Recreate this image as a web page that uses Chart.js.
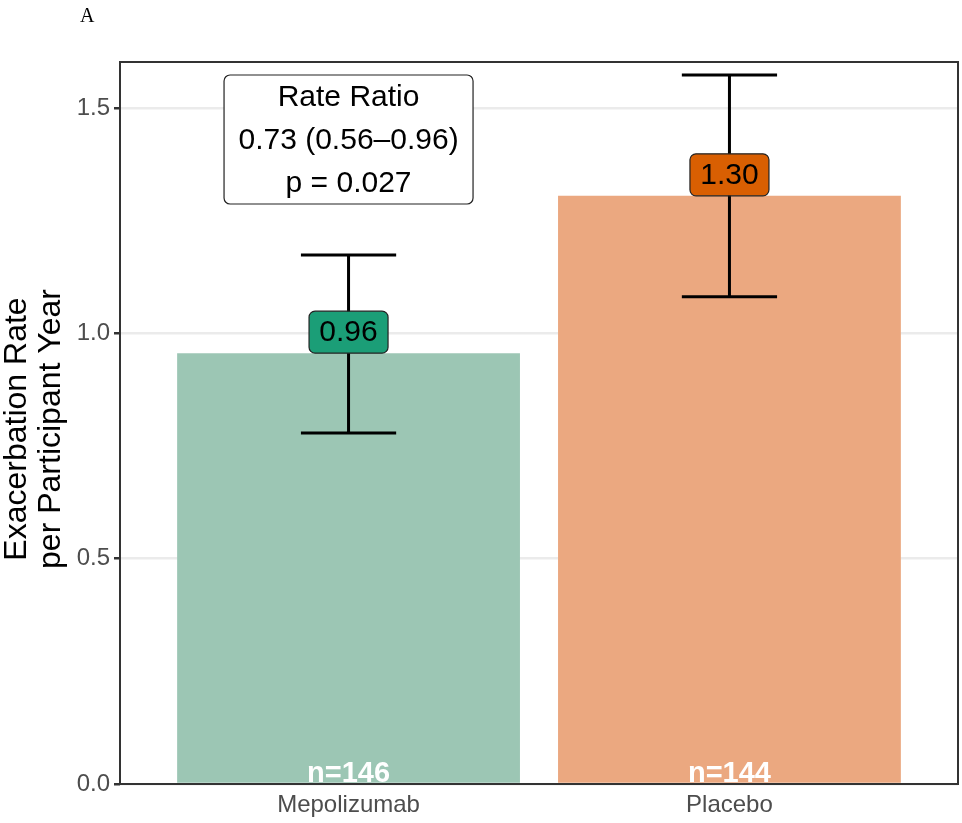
<!DOCTYPE html>
<html>
<head>
<meta charset="utf-8">
<script src="https://cdn.jsdelivr.net/npm/chart.js@4"></script>
<style>
  html, body { margin: 0; padding: 0; background: #fff; }
  #wrap { position: relative; width: 962px; height: 823px; }
</style>
</head>
<body>
<div id="wrap"><canvas id="chart" width="962" height="823"></canvas></div>
<script>
const groups = ["Mepolizumab", "Placebo"];
const groupPos = [1, 2];
const rates = [0.956, 1.305];
const rateLabels = ["0.96", "1.30"];
const ciLow = [0.779, 1.081];
const ciHigh = [1.174, 1.573];
const counts = ["n=146", "n=144"];
const barColors = ["#9cc6b4", "#eba880"];
const labelColors = ["#1b9e77", "#d95f02"];
const yTicks = [0, 0.5, 1.0, 1.5];
const ratioText = ["Rate Ratio", "0.73 (0.56\u20130.96)", "p = 0.027"];

const FONT = "'Liberation Sans', Arial, Helvetica, sans-serif";

const extras = {
  id: "extras",
  afterDatasetsDraw(chart) {
    const ctx = chart.ctx;
    const x = chart.scales.x, y = chart.scales.y;
    const area = chart.chartArea;
    ctx.save();

    // error bars
    ctx.strokeStyle = "#000";
    ctx.lineWidth = 3;
    groupPos.forEach((p, i) => {
      const cx = x.getPixelForValue(p);
      const half = x.getPixelForValue(p + 0.125) - cx;
      const yl = y.getPixelForValue(ciLow[i]);
      const yh = y.getPixelForValue(ciHigh[i]);
      ctx.beginPath();
      ctx.moveTo(cx, yl); ctx.lineTo(cx, yh);
      ctx.moveTo(cx - half, yl); ctx.lineTo(cx + half, yl);
      ctx.moveTo(cx - half, yh); ctx.lineTo(cx + half, yh);
      ctx.stroke();
    });

    // value labels (bottom edge on the bar top)
    ctx.font = "30px " + FONT;
    ctx.textAlign = "center";
    ctx.textBaseline = "middle";
    groupPos.forEach((p, i) => {
      const cx = x.getPixelForValue(p);
      const yb = y.getPixelForValue(rates[i]);
      const w = 79, h = 42;
      ctx.beginPath();
      ctx.roundRect(cx - w / 2, yb - h, w, h, 6);
      ctx.fillStyle = labelColors[i];
      ctx.fill();
      ctx.lineWidth = 1.2;
      ctx.strokeStyle = "#222";
      ctx.stroke();
      ctx.fillStyle = "#000";
      ctx.fillText(rateLabels[i], cx, yb - h / 2 + 1);
    });

    // n labels
    ctx.font = "bold 29px " + FONT;
    ctx.fillStyle = "#fff";
    ctx.textBaseline = "alphabetic";
    groupPos.forEach((p, i) => {
      ctx.fillText(counts[i], x.getPixelForValue(p), area.bottom - 2);
    });

    // rate ratio box
    const bx = x.getPixelForValue(1);
    const by = y.getPixelForValue(1.43);
    const bw = 249, bh = 129;
    ctx.beginPath();
    ctx.roundRect(bx - bw / 2, by - bh / 2, bw, bh, 6);
    ctx.fillStyle = "#fff";
    ctx.fill();
    ctx.lineWidth = 1.2;
    ctx.strokeStyle = "#222";
    ctx.stroke();
    ctx.font = "30px " + FONT;
    ctx.fillStyle = "#000";
    ctx.textBaseline = "middle";
    ratioText.forEach((t, k) => {
      ctx.fillText(t, bx, by - 42 + k * 43);
    });

    // panel border
    ctx.lineWidth = 2;
    ctx.strokeStyle = "#333";
    ctx.strokeRect(area.left, area.top, area.right - area.left, area.bottom - area.top);

    // panel tag
    ctx.font = "20px 'Liberation Serif', 'DejaVu Serif', serif";
    ctx.fillStyle = "#000";
    ctx.textAlign = "left";
    ctx.textBaseline = "alphabetic";
    ctx.fillText("A", 80, 22);

    // y title
    ctx.save();
    ctx.translate(0, (area.top + area.bottom) / 2 + 6);
    ctx.rotate(-Math.PI / 2);
    ctx.font = "32px " + FONT;
    ctx.textAlign = "center";
    ctx.textBaseline = "alphabetic";
    ctx.fillText("Exacerbation Rate", 0, 26);
    ctx.fillText("per Participant Year", 0, 60);
    ctx.restore();

    ctx.restore();
  }
};

new Chart(document.getElementById("chart"), {
  type: "bar",
  data: {
    datasets: [{
      data: groupPos.map((p, i) => ({ x: p, y: rates[i] })),
      backgroundColor: barColors,
      borderWidth: 0,
      barPercentage: 0.9,
      categoryPercentage: 1.0
    }]
  },
  options: {
    responsive: false,
    animation: false,
    layout: { padding: { top: 62, right: 4, left: 0, bottom: 0 } },
    plugins: { legend: { display: false }, tooltip: { enabled: false } },
    scales: {
      x: {
        type: "linear",
        offset: false,
        min: 0.4,
        max: 2.6,
        afterBuildTicks: (s) => { s.ticks = groupPos.map(v => ({ value: v })); },
        afterFit: (s) => { s.height = 39; },
        grid: { display: false, drawTicks: false, offset: false },
        border: { display: false },
        ticks: {
          padding: 7,
          color: "#4d4d4d",
          font: { size: 24, family: FONT },
          callback: (v) => groups[groupPos.indexOf(v)] || ""
        }
      },
      y: {
        min: 0,
        max: 1.602,
        afterBuildTicks: (s) => { s.ticks = yTicks.map(v => ({ value: v })); },
        afterFit: (s) => { s.width = 120; },
        grid: {
          color: "#ebebeb",
          lineWidth: 2.5,
          tickColor: "#333",
          tickWidth: 2.5,
          tickLength: 6
        },
        border: { display: false },
        ticks: {
          padding: 4,
          color: "#4d4d4d",
          font: { size: 24, family: FONT },
          callback: (v) => v.toFixed(1)
        }
      }
    }
  },
  plugins: [extras]
});
</script>
</body>
</html>
